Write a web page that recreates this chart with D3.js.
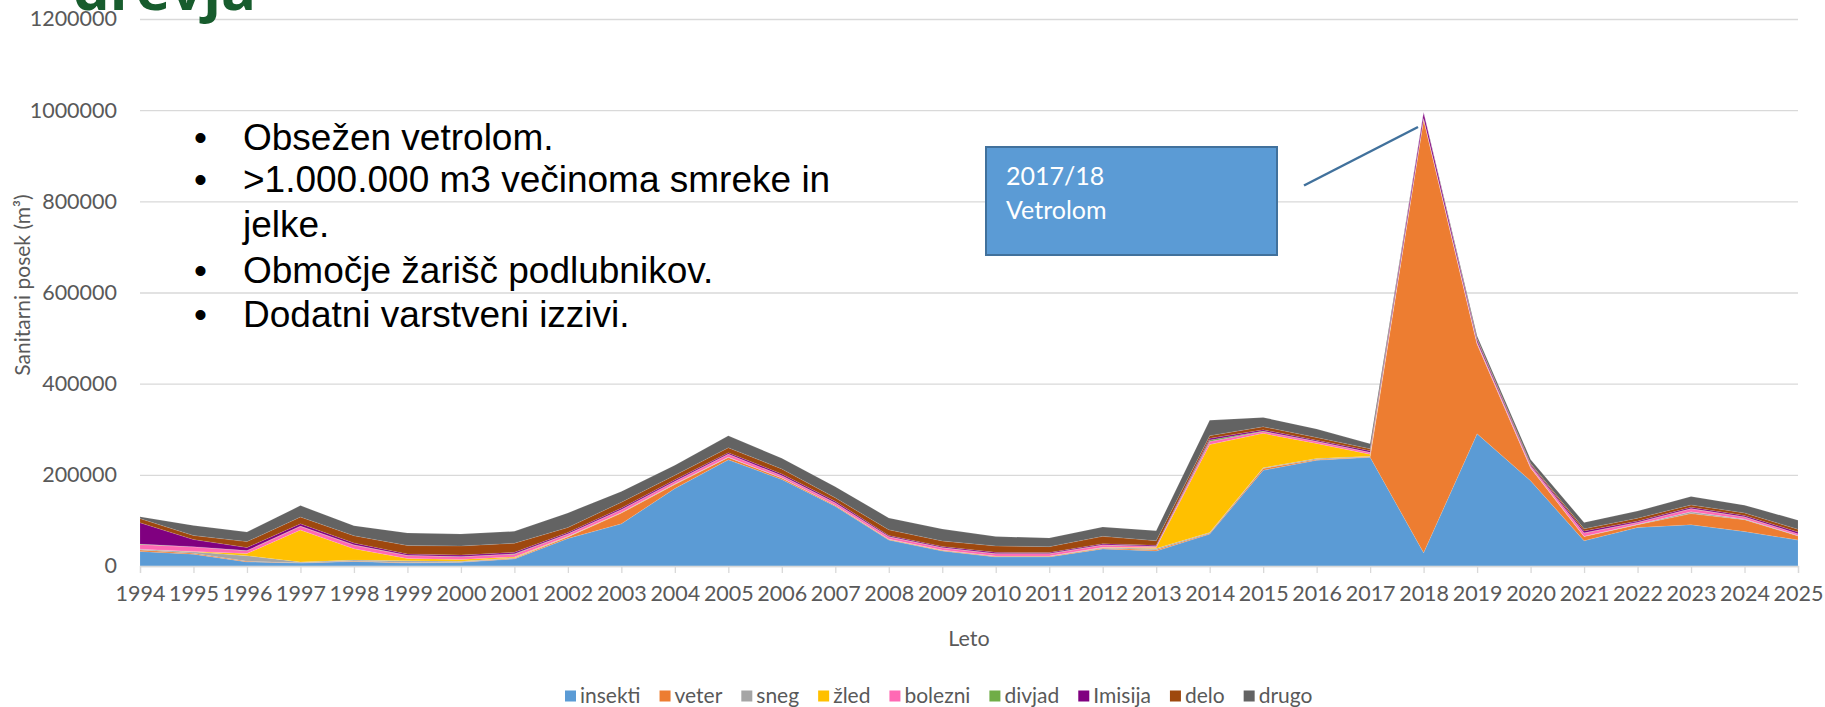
<!DOCTYPE html>
<html lang="sl">
<head>
<meta charset="utf-8" />
<title>Sanitarni posek</title>
<script src="https://cdn.jsdelivr.net/npm/d3@7/dist/d3.min.js"></script>
<style>
  body { margin: 0; background: #fff; }
  svg { display: block; }
  .os text { fill: #595959; font-family: Lato, "Open Sans", sans-serif; font-size: 21.5px; }
  .os line, .os path { stroke: #d9d9d9; stroke-width: 1.3px; }
  .alineja { font-family: "Liberation Sans", Arial, sans-serif; font-size: 37px; fill: #000; }
</style>
</head>
<body>
<script>
// leta in vrste posega (m3)
var leta = d3.range(1994, 2026);

var insekti = [32000, 26000, 9000, 6500, 10000, 6500, 8000, 15500, 60500, 92500, 170000, 233000, 190000, 131000, 57000, 33000,
               20000, 20000, 37500, 33000, 70000, 210000, 232000, 238500, 29000, 290000, 187000, 55500, 84500, 90500, 75500, 57000];
var veter   = [3000, 2000, 1500, 500, 1000, 1000, 1000, 1500, 3000, 23500, 9000, 5000, 3000, 2000, 1500, 1500,
               1500, 1500, 1500, 2500, 2000, 4000, 1500, 1000, 952000, 197000, 28000, 9000, 6000, 24500, 26000, 9000];
var sneg    = [2000, 3000, 12000, 2000, 2000, 4000, 1500, 1000, 1000, 1000, 1000, 1000, 500, 500, 500, 500,
               500, 500, 1500, 3000, 1500, 1500, 2500, 1500, 0, 1000, 1000, 1000, 1000, 4000, 1500, 1000];
var zled    = [0, 1000, 5000, 70000, 25000, 5000, 4000, 2000, 500, 500, 500, 0, 0, 0, 0, 0,
               0, 0, 500, 2000, 193000, 75500, 33000, 4000, 0, 0, 0, 0, 0, 0, 0, 0];
var bolezni = [10000, 10000, 6000, 8000, 8000, 6500, 6000, 6000, 5000, 6000, 5000, 6000, 4500, 4500, 5000, 5000,
               5000, 5000, 5000, 2500, 6500, 4000, 4000, 4000, 1000, 3000, 4000, 7000, 4000, 6500, 4500, 3500];
var divjad  = [1000, 500, 500, 500, 500, 500, 500, 1000, 500, 500, 500, 500, 500, 500, 500, 500,
               500, 500, 500, 500, 3500, 1000, 500, 500, 0, 500, 500, 500, 500, 500, 500, 500];
var imisija = [47000, 15500, 6500, 5000, 4000, 3000, 3000, 3000, 3000, 3000, 3000, 3000, 3500, 3500, 2500, 2500,
               2500, 2000, 2500, 2000, 3500, 3000, 2500, 3500, 14000, 5000, 2500, 4000, 2500, 3000, 3000, 3500];
var delo    = [9000, 9000, 13000, 15000, 16000, 18500, 20000, 20000, 11000, 13000, 10000, 11000, 11000, 7500, 12500, 12000,
               14000, 13000, 16000, 10000, 6000, 6500, 6000, 4000, 0, 2000, 2500, 4500, 6500, 5000, 5500, 6000];
var drugo   = [4000, 22000, 21000, 25000, 22000, 27500, 26000, 26000, 32000, 23500, 22000, 26000, 23500, 24500, 26000, 26000,
               20500, 19000, 20500, 22000, 33500, 20500, 18500, 11000, 0, 6000, 8000, 14000, 15500, 18500, 17000, 20000];

var imena = ["insekti", "veter", "sneg", "žled", "bolezni", "divjad", "Imisija", "delo", "drugo"];
var serije = [insekti, veter, sneg, zled, bolezni, divjad, imisija, delo, drugo];
var barve = ["#5b9bd5", "#ed7d31", "#a5a5a5", "#ffc000", "#ff69b4", "#70ad47", "#800080", "#9e480e", "#636363"];

var yTicks = d3.range(0, 1200001, 200000);
var alineje = ["Obsežen vetrolom.", ">1.000.000 m3 večinoma smreke in", "jelke.", "Območje žarišč podlubnikov.", "Dodatni varstveni izzivi."];

var width = 1825, height = 707;
var pLeft = 140, pRight = 1798, pTop = 19, pBottom = 566;

var svg = d3.select("body").append("svg")
    .attr("width", width)
    .attr("height", height);

var x = d3.scaleLinear().domain([1994, 2025]).range([pLeft, pRight]);
var y = d3.scaleLinear().domain([0, 1200000]).range([pBottom, pTop]);

// tabela za d3.stack
var vrstice = leta.map(function (l, i) {
    var o = { leto: l };
    imena.forEach(function (k, j) { o[k] = serije[j][i]; });
    return o;
});

var sklad = d3.stack().keys(imena)(vrstice);

// mreža in os y
var osY = svg.append("g")
    .attr("class", "os")
    .attr("transform", "translate(" + pLeft + ",0)")
    .call(d3.axisLeft(y).tickValues(yTicks).tickFormat(d3.format("d"))
        .tickSize(-(pRight - pLeft)).tickPadding(23));
osY.select(".domain").remove();

// naslov (odrezan na vrhu)
svg.append("text")
    .attr("x", 73).attr("y", 10)
    .style("font-family", "'Open Sans', sans-serif")
    .style("font-weight", "bold")
    .style("font-size", "58px")
    .style("fill", "#175c2d")
    .text("drevja");

var area = d3.area()
    .x(function (d) { return x(d.data.leto); })
    .y0(function (d) { return y(d[0]); })
    .y1(function (d) { return y(d[1]); });

svg.append("g").selectAll("path")
    .data(sklad)
    .enter().append("path")
    .attr("d", area)
    .attr("fill", function (d, i) { return barve[i]; })
    .attr("stroke", "#ffffff")
    .attr("stroke-opacity", 0.18)
    .attr("stroke-width", 0.6);

// os x
svg.append("g")
    .attr("class", "os")
    .attr("transform", "translate(0," + pBottom + ")")
    .call(d3.axisBottom(x).tickValues(leta).tickFormat(d3.format("d"))
        .tickSize(7).tickPadding(13));

svg.append("text")
    .attr("x", (pLeft + pRight) / 2).attr("y", 646)
    .attr("text-anchor", "middle")
    .style("font-family", "Lato, sans-serif").style("font-size", "21.5px").style("fill", "#595959")
    .text("Leto");

svg.append("text")
    .attr("transform", "translate(23,285) rotate(-90)")
    .attr("text-anchor", "middle")
    .attr("dy", "0.35em")
    .style("font-family", "Lato, sans-serif").style("font-size", "21px").style("fill", "#595959")
    .text("Sanitarni posek (m³)");

// legenda
var leg = svg.append("g").attr("transform", "translate(565,696)");
var lx = 0;
imena.forEach(function (ime, i) {
    leg.append("rect")
        .attr("x", lx).attr("y", -5.5)
        .attr("width", 11).attr("height", 11)
        .attr("fill", barve[i]);
    var t = leg.append("text")
        .attr("x", lx + 15).attr("dy", "0.35em")
        .style("font-family", "Lato, sans-serif").style("font-size", "21px").style("fill", "#595959")
        .text(ime);
    lx += 15 + t.node().getComputedTextLength() + 19;
});

// alineje
var baseY = [150, 192, 237, 283, 327];
alineje.forEach(function (a, i) {
    if (i != 2) {
        svg.append("text").attr("class", "alineja")
            .attr("x", 194).attr("y", baseY[i]).text("•");
    }
    svg.append("text").attr("class", "alineja")
        .attr("x", 243).attr("y", baseY[i]).text(a);
});

// okvir 2017/18 in kazalna črta
svg.append("rect")
    .attr("x", 986).attr("y", 147)
    .attr("width", 291).attr("height", 108)
    .attr("fill", "#5b9bd5")
    .attr("stroke", "#41719c").attr("stroke-width", 2);

svg.append("text")
    .attr("x", 1006).attr("y", 185)
    .style("font-family", "Lato, sans-serif").style("font-size", "25px").style("fill", "#fff")
    .text("2017/18");
svg.append("text")
    .attr("x", 1006).attr("y", 219)
    .style("font-family", "Lato, sans-serif").style("font-size", "25px").style("fill", "#fff")
    .text("Vetrolom");

svg.append("line")
    .attr("x1", 1304).attr("y1", 185.5)
    .attr("x2", 1418).attr("y2", 127)
    .attr("stroke", "#41719c").attr("stroke-width", 2.5);
</script>
</body>
</html>
